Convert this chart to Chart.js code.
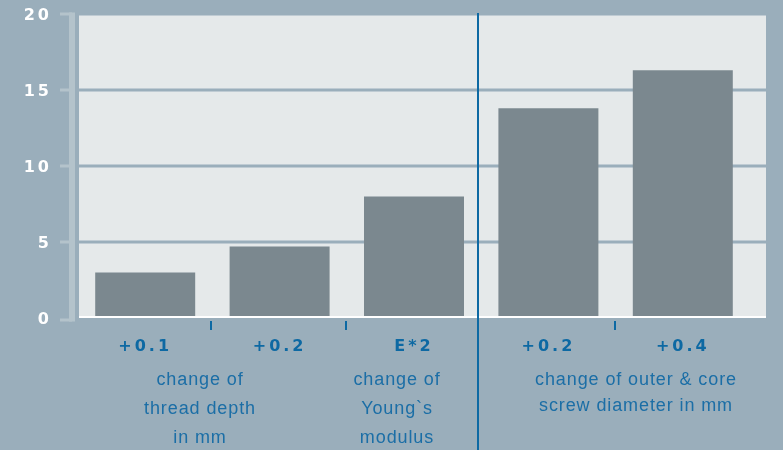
<!DOCTYPE html>
<html>
<head>
<meta charset="utf-8">
<script src="https://cdn.jsdelivr.net/npm/chart.js@4.4.1/dist/chart.umd.min.js"></script>
<style>
  html, body { margin: 0; padding: 0; background: #9aaebb; }
  #wrap { width: 783px; height: 450px; position: relative; }
</style>
</head>
<body>
<div id="wrap"><canvas id="screwChart"></canvas></div>
<script>
// Datos del gráfico
const categorias = ['+0.1', '+0.2', 'E*2', '+0.2', '+0.4'];
const valores = [3.0, 4.7, 8.0, 13.8, 16.3];
const yTicks = [0, 5, 10, 15, 20];
const grupos = [
    { lineas: ['change of', 'thread depth', 'in mm'], x: 200 },
    { lineas: ['change of', 'Young`s', 'modulus'], x: 397 },
    { lineas: ['change of outer & core', 'screw diameter in mm'], x: 636 }
];

const FONDO = '#9aaebb';
const AREA = '#e5e9ea';
const BARRA = '#7b888f';
const EJE = '#b4c3cb';
const AZUL = '#0d69a3';
const FAMILIA = '"Liberation Sans", Arial, sans-serif';
const NEGRITA = '"DejaVu Sans", Verdana, sans-serif';

// Plugin para fondo, rejilla y decoraciones
const decoraciones = {
    id: 'decoraciones',
    beforeDraw(chart) {
        const { ctx, chartArea } = chart;
        ctx.save();
        ctx.fillStyle = FONDO;
        ctx.fillRect(0, 0, chart.width, chart.height);
        ctx.fillStyle = AREA;
        ctx.fillRect(79, chartArea.top - 1, 766 - 79, chartArea.bottom - chartArea.top);
        ctx.restore();
        ctx.letterSpacing = '3px';
    },
    beforeDatasetsDraw(chart) {
        const { ctx, chartArea } = chart;
        const y = chart.scales.y;
        ctx.save();
        // líneas horizontales
        ctx.strokeStyle = FONDO;
        ctx.lineWidth = 3;
        yTicks.forEach(t => {
            if (t === 0) return;
            const py = y.getPixelForValue(t);
            ctx.beginPath();
            ctx.moveTo(74, py);
            ctx.lineTo(766, py);
            ctx.stroke();
        });
        // corchete del eje
        ctx.strokeStyle = EJE;
        ctx.lineWidth = 6;
        ctx.beginPath();
        ctx.moveTo(72, y.getPixelForValue(20) - 1.5);
        ctx.lineTo(72, y.getPixelForValue(0) + 3.5);
        ctx.stroke();
        ctx.lineWidth = 3;
        yTicks.forEach(t => {
            const py = t === 0 ? y.getPixelForValue(0) + 2 : y.getPixelForValue(t);
            ctx.beginPath();
            ctx.moveTo(60, py);
            ctx.lineTo(72, py);
            ctx.stroke();
        });
        ctx.restore();
    },
    afterDatasetsDraw(chart) {
        const { ctx, chartArea } = chart;
        const x = chart.scales.x;
        ctx.save();
        ctx.letterSpacing = '0px';
        // línea base blanca
        ctx.strokeStyle = '#ffffff';
        ctx.lineWidth = 2;
        ctx.beginPath();
        ctx.moveTo(79, chartArea.bottom - 1);
        ctx.lineTo(766, chartArea.bottom - 1);
        ctx.stroke();
        // separadores entre categorías
        const limite = i => (x.getPixelForValue(i) + x.getPixelForValue(i + 1)) / 2;
        ctx.strokeStyle = AZUL;
        ctx.lineWidth = 2;
        [0, 1, 3].forEach(i => {
            const px = Math.round(limite(i)) - 1;
            ctx.beginPath();
            ctx.moveTo(px, chartArea.bottom + 3);
            ctx.lineTo(px, chartArea.bottom + 12);
            ctx.stroke();
        });
        const sep = Math.round(limite(2)) - 3;
        ctx.beginPath();
        ctx.moveTo(sep, chartArea.top - 1);
        ctx.lineTo(sep, chart.height);
        ctx.stroke();
        // textos de grupos
        ctx.fillStyle = '#1b6ea6';
        ctx.font = '18px ' + FAMILIA;
        ctx.letterSpacing = '0.9px';
        ctx.textAlign = 'center';
        ctx.textBaseline = 'middle';
        grupos.forEach((g, gi) => {
            const alto = gi === 2 ? 26 : 29;
            g.lineas.forEach((l, li) => {
                ctx.fillText(l, g.x, 380 + li * alto);
            });
        });
        ctx.restore();
    },
    afterDraw(chart) {
        chart.ctx.letterSpacing = '0px';
    }
};

function inicializarGrafico() {
    const ctx = document.getElementById('screwChart').getContext('2d');
    new Chart(ctx, {
        type: 'bar',
        data: {
            labels: categorias,
            datasets: [{
                data: valores,
                backgroundColor: BARRA,
                borderWidth: 0,
                barPercentage: 0.744,
                categoryPercentage: 1
            }]
        },
        options: {
            responsive: true,
            maintainAspectRatio: false,
            animation: false,
            layout: { padding: { top: 14, right: 33, left: 0, bottom: 0 } },
            plugins: {
                legend: { display: false },
                tooltip: { enabled: false }
            },
            scales: {
                x: {
                    grid: { display: false },
                    border: { display: false },
                    ticks: {
                        color: AZUL,
                        font: { family: NEGRITA, size: 16, weight: 'bold' },
                        padding: 11,
                        maxRotation: 0
                    },
                    afterFit(scale) {
                        scale.height = 132;
                        scale.paddingLeft = 0;
                        scale.paddingRight = 0;
                    }
                },
                y: {
                    min: 0,
                    max: 20,
                    grid: { display: false },
                    border: { display: false },
                    ticks: {
                        stepSize: 5,
                        color: '#ffffff',
                        font: { family: NEGRITA, size: 16, weight: 'bold' },
                        padding: 18,
                        labelOffset: 2
                    },
                    afterFit(scale) {
                        scale.width = 78;
                        scale.paddingTop = 0;
                        scale.paddingBottom = 0;
                    }
                }
            }
        },
        plugins: [decoraciones]
    });
}

document.addEventListener('DOMContentLoaded', inicializarGrafico);
</script>
</body>
</html>
